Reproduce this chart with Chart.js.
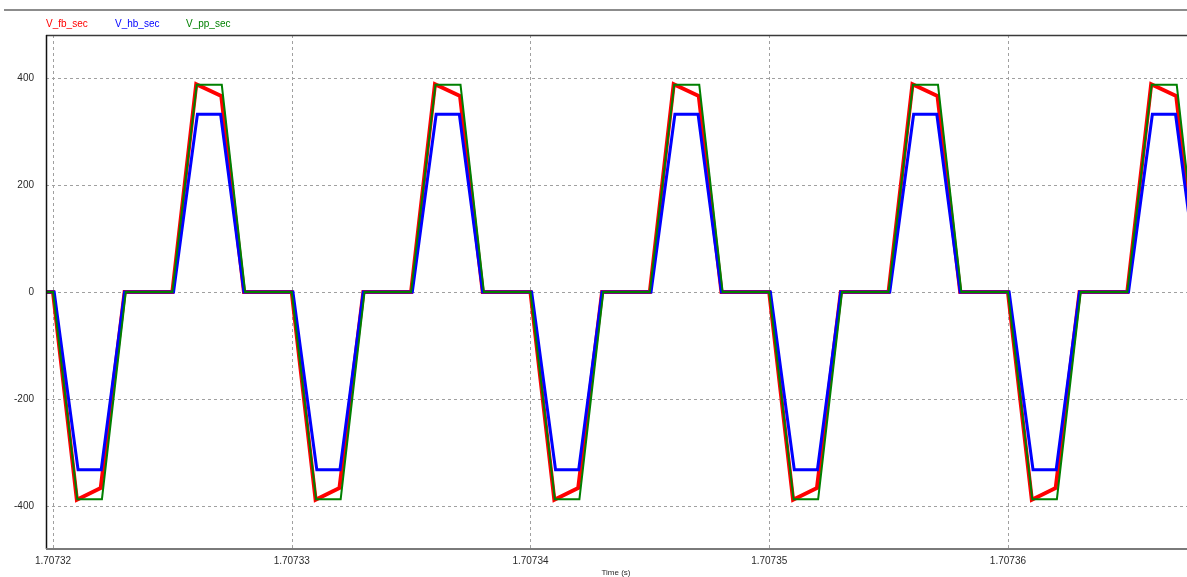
<!DOCTYPE html>
<html>
<head>
<meta charset="utf-8">
<title>V_fb_sec / V_hb_sec / V_pp_sec</title>
<script src="https://cdn.jsdelivr.net/npm/chart.js@4"></script>
<style>
  html, body { margin: 0; padding: 0; background: #ffffff; }
  #wrap { position: relative; width: 1187px; height: 577px; overflow: hidden; }
  #plot { position: absolute; left: 0; top: 0; }
  .leg { position: absolute; top: 19px; font: 10px "Liberation Sans", Arial, sans-serif; line-height: 10px; white-space: nowrap; }
  #xtitle { position: absolute; top: 569px; left: 0; width: 1232px; text-align: center; font: 8px "Liberation Sans", Arial, sans-serif; line-height: 8px; color: #2a2a2a; }
</style>
</head>
<body>
<div id="wrap">
  <canvas id="plot" width="1187" height="577"></canvas>
  <span class="leg" style="left:46px;color:#ff0000">V_fb_sec</span>
  <span class="leg" style="left:115px;color:#0000ff">V_hb_sec</span>
  <span class="leg" style="left:186px;color:#008000">V_pp_sec</span>
  <div id="xtitle">Time (s)</div>
</div>
<script>
// Time axis: microseconds after 1.70732 s
const xTickValues = [0, 10, 20, 30, 40];
const xTickLabels = ['1.70732', '1.70733', '1.70734', '1.70735', '1.70736'];
const yTickValues = [-400, -200, 0, 200, 400];
const yTickLabels = ['-400', '-200', '0', '200', '400'];

// V_fb_sec breakpoints (µs, V)
const fbTime = [-0.3, 0, 1.0, 2.0, 3.0, 5.0, 6.0, 7.05, 8.0,
                10, 11.0, 12.0, 13.0, 15.0, 16.0, 17.05, 18.0,
                20, 21.0, 22.0, 23.0, 25.0, 26.0, 27.05, 28.0,
                30, 31.0, 32.0, 33.0, 35.0, 36.0, 37.05, 38.0,
                40, 41.0, 42.0, 43.0, 45.0, 46.0, 47.05, 48.0];
const fbVolt = [0, 0, -388, -366, 0, 0, 388, 366, 0,
                0, -388, -366, 0, 0, 388, 366, 0,
                0, -388, -366, 0, 0, 388, 366, 0,
                0, -388, -366, 0, 0, 388, 366, 0,
                0, -388, -366, 0, 0, 388, 366, 0];

// V_hb_sec breakpoints (µs, V)
const hbTime = [-0.3, 0.05, 1.05, 2.02, 3.0, 5.05, 6.05, 7.02, 8.0,
                10.05, 11.05, 12.02, 13.0, 15.05, 16.05, 17.02, 18.0,
                20.05, 21.05, 22.02, 23.0, 25.05, 26.05, 27.02, 28.0,
                30.05, 31.05, 32.02, 33.0, 35.05, 36.05, 37.02, 38.0,
                40.05, 41.05, 42.02, 43.0, 45.05, 46.05, 47.02, 48.0];
const hbVolt = [0, 0, -332, -332, 0, 0, 332, 332, 0,
                0, -332, -332, 0, 0, 332, 332, 0,
                0, -332, -332, 0, 0, 332, 332, 0,
                0, -332, -332, 0, 0, 332, 332, 0,
                0, -332, -332, 0, 0, 332, 332, 0];

// V_pp_sec breakpoints (µs, V)
const ppTime = [-0.3, 0, 1.02, 2.05, 3.05, 5.0, 6.02, 7.07, 8.05,
                10, 11.02, 12.05, 13.05, 15.0, 16.02, 17.07, 18.05,
                20, 21.02, 22.05, 23.05, 25.0, 26.02, 27.07, 28.05,
                30, 31.02, 32.05, 33.05, 35.0, 36.02, 37.07, 38.05,
                40, 41.02, 42.05, 43.05, 45.0, 46.02, 47.07, 48.05];
const ppVolt = [0, 0, -387, -387, 0, 0, 387, 387, 0,
                0, -387, -387, 0, 0, 387, 387, 0,
                0, -387, -387, 0, 0, 387, 387, 0,
                0, -387, -387, 0, 0, 387, 387, 0,
                0, -387, -387, 0, 0, 387, 387, 0];

function pairs(ts, vs) { return ts.map((t, i) => ({ x: t, y: vs[i] })); }

const FONT = '"Liberation Sans", Arial, sans-serif';

// Dashed grid at the tick positions of both scales
const dashedGrid = {
  id: 'dashedGrid',
  beforeDatasetsDraw(chart) {
    const { ctx, chartArea: a, scales: { x, y } } = chart;
    ctx.save();
    ctx.strokeStyle = '#a0a0a0';
    ctx.lineWidth = 1;
    ctx.setLineDash([3, 3]);
    x.ticks.forEach(t => {
      const px = Math.round(x.getPixelForValue(t.value)) + 0.5;
      ctx.beginPath(); ctx.moveTo(px, a.top); ctx.lineTo(px, a.bottom); ctx.stroke();
    });
    y.ticks.forEach(t => {
      const py = Math.round(y.getPixelForValue(t.value)) + 0.5;
      ctx.beginPath(); ctx.moveTo(a.left, py); ctx.lineTo(a.right, py); ctx.stroke();
    });
    ctx.restore();
  }
};

// Plot frame: header rule, top edge, left and bottom axis lines
const framePlugin = {
  id: 'frame',
  afterDraw(chart) {
    const { ctx, chartArea: a } = chart;
    ctx.save();
    ctx.strokeStyle = '#8c8c8c';
    ctx.lineWidth = 2;
    ctx.beginPath(); ctx.moveTo(4, 10); ctx.lineTo(chart.width, 10); ctx.stroke();
    ctx.strokeStyle = '#3a3a3a';
    ctx.lineWidth = 1.5;
    ctx.beginPath(); ctx.moveTo(a.left, a.top + 0.5); ctx.lineTo(a.right, a.top + 0.5); ctx.stroke();
    ctx.strokeStyle = '#111111';
    ctx.beginPath(); ctx.moveTo(a.left + 0.5, a.top); ctx.lineTo(a.left + 0.5, a.bottom); ctx.stroke();
    ctx.strokeStyle = '#7a7a7a';
    ctx.lineWidth = 2;
    ctx.beginPath(); ctx.moveTo(a.left, a.bottom); ctx.lineTo(a.right, a.bottom); ctx.stroke();
    ctx.restore();
  }
};

new Chart(document.getElementById('plot'), {
  type: 'line',
  data: {
    datasets: [
      { label: 'V_fb_sec', data: pairs(fbTime, fbVolt), borderColor: '#ff0000', borderWidth: 4, order: 3 },
      { label: 'V_hb_sec', data: pairs(hbTime, hbVolt), borderColor: '#0000ff', borderWidth: 3, order: 2 },
      { label: 'V_pp_sec', data: pairs(ppTime, ppVolt), borderColor: '#008000', borderWidth: 2, order: 1 }
    ]
  },
  options: {
    responsive: false,
    animation: false,
    events: [],
    layout: { padding: { top: 35, right: 0, left: 0, bottom: 0 } },
    elements: { point: { radius: 0 }, line: { tension: 0, borderJoinStyle: 'miter', fill: false } },
    plugins: { legend: { display: false }, tooltip: { enabled: false } },
    scales: {
      x: {
        type: 'linear',
        min: -0.293,
        max: 47.5,
        afterBuildTicks(scale) { scale.ticks = xTickValues.map(v => ({ value: v })); },
        afterFit(scale) { scale.height = 28; },
        ticks: {
          autoSkip: false,
          maxRotation: 0,
          padding: 6,
          color: '#2a2a2a',
          font: { family: FONT, size: 10 },
          callback(value) { const i = xTickValues.indexOf(value); return i >= 0 ? xTickLabels[i] : ''; }
        },
        grid: { display: false, drawTicks: false },
        border: { display: false }
      },
      y: {
        type: 'linear',
        min: -480,
        max: 480,
        afterBuildTicks(scale) { scale.ticks = yTickValues.map(v => ({ value: v })); },
        afterFit(scale) { scale.width = 46; },
        ticks: {
          padding: 12,
          color: '#2a2a2a',
          font: { family: FONT, size: 10 },
          callback(value) { const i = yTickValues.indexOf(value); return i >= 0 ? yTickLabels[i] : ''; }
        },
        grid: { display: false, drawTicks: false },
        border: { display: false }
      }
    }
  },
  plugins: [dashedGrid, framePlugin]
});
</script>
</body>
</html>
